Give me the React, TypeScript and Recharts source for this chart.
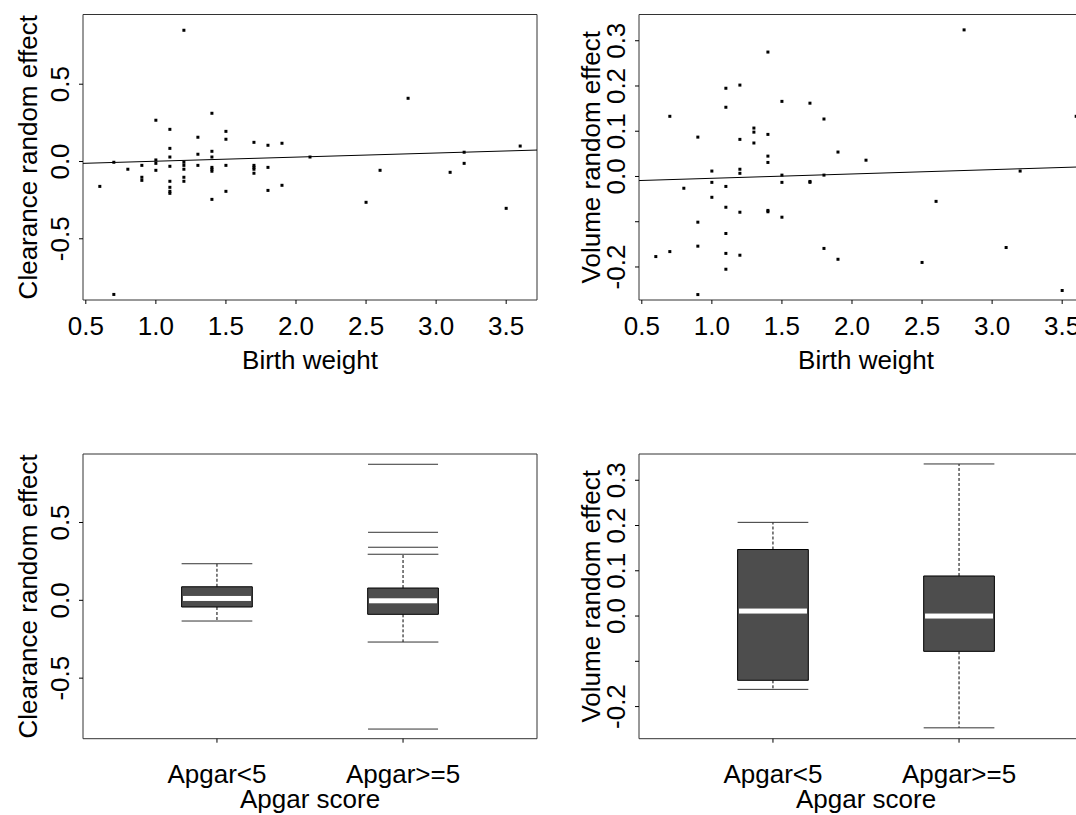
import {
  ComposedChart,
  ReferenceArea,
  ReferenceLine,
  Scatter,
  XAxis,
  YAxis,
} from "recharts";

const FONT = "'Liberation Sans', Arial, Helvetica, sans-serif";
const FS = 26;
const INK = "#000";
const FRAME = "#333";
const BOX_FILL = "#4d4d4d";

// birth weight axis
const BW_DOMAIN: [number, number] = [0.48, 3.72];
const BW_TICKS = [0.5, 1, 1.5, 2, 2.5, 3, 3.5];
const BW_LABELS = ["0.5", "1.0", "1.5", "2.0", "2.5", "3.0", "3.5"];

// Apgar groups
const APGAR_DOMAIN: [number, number] = [0.28, 2.72];
const APGAR_TICKS = [1, 2];
const APGAR_LABELS = ["Apgar<5", "Apgar>=5"];

// random effect axes
const CL_TICKS = [-0.5, 0, 0.5];
const CL_LABELS = ["-0.5", "0.0", "0.5"];
const V_TICKS = [-0.2, -0.1, 0, 0.1, 0.2, 0.3];
const V_LABELS = ["-0.2", "", "0.0", "0.1", "0.2", "0.3"];

// clearance random effect by birth weight
const CL_BW = [
  0.6, 0.7, 0.7, 0.8, 0.9, 0.9, 0.9, 1.0, 1.0, 1.0, 1.0,
  1.1, 1.1, 1.1, 1.1, 1.1, 1.1, 1.1, 1.1,
  1.2, 1.2, 1.2, 1.2, 1.2, 1.2,
  1.3, 1.3, 1.3,
  1.4, 1.4, 1.4, 1.4, 1.4, 1.4, 1.4,
  1.5, 1.5, 1.5, 1.5,
  1.7, 1.7, 1.7, 1.7, 1.7,
  1.8, 1.8, 1.8, 1.9, 1.9,
  2.1, 2.5, 2.6, 2.8, 3.1, 3.2, 3.2, 3.5, 3.6,
];
const CL_RE = [
  -0.161, -0.005, -0.86, -0.05, -0.025, -0.102, -0.122, 0.267, 0.01, -0.012, -0.057,
  0.208, 0.085, 0.029, -0.031, -0.128, -0.167, -0.193, -0.206,
  0.849, -0.005, -0.025, -0.05, -0.102, -0.128,
  0.157, 0.047, -0.025,
  0.312, 0.066, 0.029, -0.038, -0.05, -0.063, -0.245,
  0.195, 0.144, -0.025, -0.193,
  0.124, -0.025, -0.038, -0.05, -0.076,
  0.105, -0.038, -0.187, 0.118, -0.154,
  0.029, -0.264, -0.057, 0.409, -0.07, 0.06, -0.012, -0.303, 0.1,
];
const CL_FIT_X = [0.48, 3.72];
const CL_FIT_Y = [-0.012, 0.074];

// volume random effect by birth weight
const V_BW = [
  0.6, 0.7, 0.7, 0.8, 0.9, 0.9, 0.9, 0.9, 1.0, 1.0, 1.0,
  1.1, 1.1, 1.1, 1.1, 1.1, 1.1, 1.1,
  1.2, 1.2, 1.2, 1.2, 1.2, 1.2,
  1.3, 1.3, 1.3,
  1.4, 1.4, 1.4, 1.4, 1.4, 1.4,
  1.5, 1.5, 1.5, 1.5,
  1.7, 1.7, 1.7, 1.8, 1.8, 1.8, 1.9, 1.9,
  2.1, 2.5, 2.6, 2.8, 3.1, 3.2, 3.5, 3.6,
];
const V_RE = [
  -0.177, 0.133, -0.166, -0.026, 0.087, -0.101, -0.154, -0.261, 0.012, -0.013, -0.046,
  0.195, 0.153, -0.022, -0.068, -0.126, -0.17, -0.205,
  0.202, 0.082, 0.016, 0.007, -0.079, -0.174,
  0.107, 0.098, 0.074,
  0.275, 0.093, 0.045, 0.031, -0.075, -0.078,
  0.166, 0.003, -0.013, -0.09,
  0.162, -0.011, -0.013, 0.127, 0.003, -0.159, 0.054, -0.183,
  0.036, -0.19, -0.055, 0.324, -0.157, 0.012, -0.252, 0.133,
];
const V_FIT_X = [0.48, 3.72];
const V_FIT_Y = [-0.009, 0.022];

// box plot summaries per Apgar group
const CL_LOW = [-0.133, -0.268];
const CL_Q1 = [-0.043, -0.09];
const CL_MED = [0.012, -0.003];
const CL_Q3 = [0.087, 0.079];
const CL_HIGH = [0.235, 0.296];
const CL_OUT_GROUP = [2, 2, 2, 2];
const CL_OUT = [0.874, 0.437, 0.341, -0.827];

const V_LOW = [-0.162, -0.247];
const V_Q1 = [-0.142, -0.078];
const V_MED = [0.011, 0.0];
const V_Q3 = [0.147, 0.0885];
const V_HIGH = [0.207, 0.336];

const BOX_HALF = 0.19;
const Y_AXIS_W = 60;
const X_AXIS_H = 60;

const textStyle = { fontSize: FS, fontFamily: FONT, fill: INK };

const xTick = (ticks: number[], labels: string[], dy: number) => (p: any) => {
  const i = ticks.indexOf(p.payload.value);
  return (
    <text x={p.x} y={p.y} dy={dy} textAnchor="middle" {...textStyle}>
      {labels[i >= 0 ? i : p.index]}
    </text>
  );
};

const yTick = (ticks: number[], labels: string[]) => (p: any) => {
  const i = ticks.indexOf(p.payload.value);
  const x = p.x - 10;
  return (
    <text x={x} y={p.y} transform={`rotate(-90 ${x} ${p.y})`} textAnchor="middle" {...textStyle}>
      {labels[i >= 0 ? i : p.index]}
    </text>
  );
};

const xTitle = (text: string, dy: number) => (p: any) => {
  const vb = p.viewBox;
  return (
    <text x={vb.x + vb.width / 2} y={vb.y + dy} textAnchor="middle" {...textStyle}>
      {text}
    </text>
  );
};

const yTitle = (text: string, gap: number) => (p: any) => {
  const vb = p.viewBox;
  const x = vb.x + vb.width - gap;
  const y = vb.y + vb.height / 2;
  return (
    <text x={x} y={y} transform={`rotate(-90 ${x} ${y})`} textAnchor="middle" {...textStyle}>
      {text}
    </text>
  );
};

const dotShape = (p: any) => <rect x={p.cx - 1.5} y={p.cy - 1.5} width={3} height={3} fill={INK} />;
const medianShape = (p: any) => <rect x={p.cx - 34} y={p.cy - 2.5} width={68} height={5} fill="#fff" />;
const outlierShape = (p: any) => (
  <line x1={p.cx - 35} x2={p.cx + 35} y1={p.cy} y2={p.cy} stroke={FRAME} strokeWidth={1} />
);

interface ScatterPanelProps {
  bw: number[];
  re: number[];
  fitX: number[];
  fitY: number[];
  yDomain: [number, number];
  yTicks: number[];
  yLabels: string[];
  yName: string;
  titleGap: number;
}

function ScatterPanel({ bw, re, fitX, fitY, yDomain, yTicks, yLabels, yName, titleGap }: ScatterPanelProps) {
  const data = bw.map((x, i) => ({ x, y: re[i] }));
  return (
    <ComposedChart width={560} height={400} margin={{ top: 14.5, right: 23, bottom: 40, left: 23 }}>
      <XAxis
        type="number"
        dataKey="x"
        domain={BW_DOMAIN}
        ticks={BW_TICKS}
        allowDataOverflow
        height={X_AXIS_H}
        axisLine={false}
        tickLine={{ stroke: INK }}
        tickSize={4}
        tickMargin={0}
        tick={xTick(BW_TICKS, BW_LABELS, 31)}
        label={xTitle("Birth weight", 69)}
      />
      <YAxis
        type="number"
        dataKey="y"
        domain={yDomain}
        ticks={yTicks}
        allowDataOverflow
        width={Y_AXIS_W}
        axisLine={false}
        tickLine={{ stroke: INK }}
        tickSize={4}
        tickMargin={0}
        tick={yTick(yTicks, yLabels)}
        label={yTitle(yName, titleGap)}
      />
      <ReferenceArea
        x1={BW_DOMAIN[0]}
        x2={BW_DOMAIN[1]}
        y1={yDomain[0]}
        y2={yDomain[1]}
        fill="none"
        stroke={FRAME}
        strokeWidth={1}
      />
      <ReferenceLine
        segment={[
          { x: fitX[0], y: fitY[0] },
          { x: fitX[1], y: fitY[1] },
        ]}
        stroke={INK}
        strokeWidth={1}
      />
      <Scatter data={data} shape={dotShape} isAnimationActive={false} />
    </ComposedChart>
  );
}

interface BoxPanelProps {
  low: number[];
  q1: number[];
  med: number[];
  q3: number[];
  high: number[];
  outGroup: number[];
  out: number[];
  yDomain: [number, number];
  yTicks: number[];
  yLabels: string[];
  yName: string;
  titleGap: number;
}

function BoxPanel({ low, q1, med, q3, high, outGroup, out, yDomain, yTicks, yLabels, yName, titleGap }: BoxPanelProps) {
  const medians = med.map((y, i) => ({ x: APGAR_TICKS[i], y }));
  const outliers = out.map((y, i) => ({ x: outGroup[i], y }));
  return (
    <ComposedChart width={560} height={375} margin={{ top: 14, right: 23, bottom: 16.3, left: 23 }}>
      <XAxis
        type="number"
        dataKey="x"
        domain={APGAR_DOMAIN}
        ticks={APGAR_TICKS}
        allowDataOverflow
        height={X_AXIS_H}
        axisLine={false}
        tickLine={{ stroke: INK }}
        tickSize={4}
        tickMargin={0}
        tick={xTick(APGAR_TICKS, APGAR_LABELS, 40)}
        label={xTitle("Apgar score", 69)}
      />
      <YAxis
        type="number"
        dataKey="y"
        domain={yDomain}
        ticks={yTicks}
        allowDataOverflow
        width={Y_AXIS_W}
        axisLine={false}
        tickLine={{ stroke: INK }}
        tickSize={4}
        tickMargin={0}
        tick={yTick(yTicks, yLabels)}
        label={yTitle(yName, titleGap)}
      />
      <ReferenceArea
        x1={APGAR_DOMAIN[0]}
        x2={APGAR_DOMAIN[1]}
        y1={yDomain[0]}
        y2={yDomain[1]}
        fill="none"
        stroke={FRAME}
        strokeWidth={1}
      />
      {APGAR_TICKS.map((c, i) => (
        <ReferenceLine
          key={`wu-${i}`}
          segment={[
            { x: c, y: q3[i] },
            { x: c, y: high[i] },
          ]}
          stroke={INK}
          strokeDasharray="3 2"
        />
      ))}
      {APGAR_TICKS.map((c, i) => (
        <ReferenceLine
          key={`wl-${i}`}
          segment={[
            { x: c, y: q1[i] },
            { x: c, y: low[i] },
          ]}
          stroke={INK}
          strokeDasharray="3 2"
        />
      ))}
      {APGAR_TICKS.map((c, i) => (
        <ReferenceLine
          key={`cu-${i}`}
          segment={[
            { x: c - BOX_HALF, y: high[i] },
            { x: c + BOX_HALF, y: high[i] },
          ]}
          stroke={FRAME}
        />
      ))}
      {APGAR_TICKS.map((c, i) => (
        <ReferenceLine
          key={`cl-${i}`}
          segment={[
            { x: c - BOX_HALF, y: low[i] },
            { x: c + BOX_HALF, y: low[i] },
          ]}
          stroke={FRAME}
        />
      ))}
      {APGAR_TICKS.map((c, i) => (
        <ReferenceArea
          key={`box-${i}`}
          x1={c - BOX_HALF}
          x2={c + BOX_HALF}
          y1={q1[i]}
          y2={q3[i]}
          fill={BOX_FILL}
          fillOpacity={1}
          stroke={INK}
          strokeWidth={1}
        />
      ))}
      <Scatter data={medians} shape={medianShape} isAnimationActive={false} />
      <Scatter data={outliers} shape={outlierShape} isAnimationActive={false} />
    </ComposedChart>
  );
}

export default function App() {
  return (
    <div
      style={{
        position: "absolute",
        left: 0,
        top: 0,
        width: 1076,
        height: 815,
        overflow: "hidden",
        background: "#fff",
      }}
    >
      <div style={{ position: "absolute", left: 0, top: 0 }}>
        <ScatterPanel
          bw={CL_BW}
          re={CL_RE}
          fitX={CL_FIT_X}
          fitY={CL_FIT_Y}
          yDomain={[-0.896, 0.951]}
          yTicks={CL_TICKS}
          yLabels={CL_LABELS}
          yName="Clearance random effect"
          titleGap={46}
        />
      </div>
      <div style={{ position: "absolute", left: 556, top: 0 }}>
        <ScatterPanel
          bw={V_BW}
          re={V_RE}
          fitX={V_FIT_X}
          fitY={V_FIT_Y}
          yDomain={[-0.273, 0.358]}
          yTicks={V_TICKS}
          yLabels={V_LABELS}
          yName="Volume random effect"
          titleGap={39}
        />
      </div>
      <div style={{ position: "absolute", left: 0, top: 440 }}>
        <BoxPanel
          low={CL_LOW}
          q1={CL_Q1}
          med={CL_MED}
          q3={CL_Q3}
          high={CL_HIGH}
          outGroup={CL_OUT_GROUP}
          out={CL_OUT}
          yDomain={[-0.889, 0.94]}
          yTicks={CL_TICKS}
          yLabels={CL_LABELS}
          yName="Clearance random effect"
          titleGap={46}
        />
      </div>
      <div style={{ position: "absolute", left: 556, top: 440 }}>
        <BoxPanel
          low={V_LOW}
          q1={V_Q1}
          med={V_MED}
          q3={V_Q3}
          high={V_HIGH}
          outGroup={[]}
          out={[]}
          yDomain={[-0.271, 0.358]}
          yTicks={V_TICKS}
          yLabels={V_LABELS}
          yName="Volume random effect"
          titleGap={39}
        />
      </div>
    </div>
  );
}
